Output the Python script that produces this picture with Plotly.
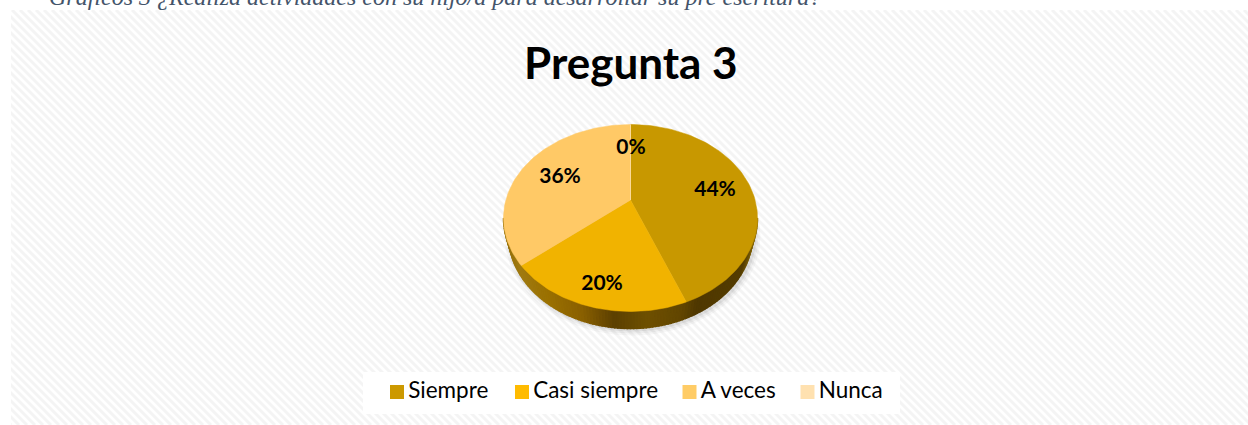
import base64
import numpy as np
import plotly.graph_objects as go

# ── Data ──────────────────────────────────────────────────────────────────────
CATEGORIES = ["Siempre", "Casi siempre", "A veces", "Nunca"]
VALUES = [44, 20, 36, 0]
VALUE_LABELS = ["44%", "20%", "36%", "0%"]
TITLE = "Pregunta 3"
CAPTION = "Gráficos 3 ¿Realiza actividades con su hijo/a para desarrollar su pre escritura?"

# ── Style ─────────────────────────────────────────────────────────────────────
FACE_COLORS = ["#C89800", "#F1B300", "#FFC966", "#FFE2AE"]
SWATCH_COLORS = ["#CC9900", "#FFBB00", "#FFCC66", "#FFE1B0"]
LABEL_POS = [(715, 191), (602, 285), (560, 178), (631, 149)]
LEGEND_X = [397, 522, 689.5, 807.5]
WIDTH, HEIGHT = 1248, 425
FONT = "Lato, Carlito, Calibri, sans-serif"

CX, CY, RX, RY = 630.5, 218.0, 127.0, 93.5   # top face ellipse, px
DEPTH = 17.0
BOTTOM_INSET = 5.0                            # lower rim is a little narrower
TILT = 0.096                                  # perspective shift of the apex
APEX = (CX, 200.0)

# side wall colour along x, px
WALL_X = [503, 517, 547, 580, 613, 647, 683, 697, 743, 752, 757]
WALL_RGB = [
    (150, 112, 10), (160, 122, 16), (154, 112, 0), (138, 96, 0), (92, 64, 0),
    (110, 80, 0), (97, 69, 0), (79, 56, 0), (84, 60, 0), (120, 92, 8), (150, 115, 12),
]


def rim(share):
    """Point on the tilted rim for a share of the circle (0 at top, clockwise)."""
    ang = np.pi / 2 - 2 * np.pi * np.asarray(share, dtype=float)
    z = np.exp(1j * ang)
    w = (z + 1j * TILT) / (1 - 1j * TILT * z)
    return CX + RX * w.real, CY - RY * w.imag


def hatch_uri(w, h):
    step = 8
    lines = "".join(
        f'<line x1="{x}" y1="0" x2="{x + h}" y2="{h}"/>' for x in range(-h, w, step)
    )
    svg = (
        f'<svg xmlns="http://www.w3.org/2000/svg" width="{w}" height="{h}">'
        f'<rect width="{w}" height="{h}" fill="#ffffff"/>'
        f'<g stroke="#f4f4f4" stroke-width="3">{lines}</g></svg>'
    )
    return "data:image/svg+xml;base64," + base64.b64encode(svg.encode()).decode()


fig = go.Figure()

# white box behind the legend row
fig.add_trace(go.Scatter(
    x=[363, 900, 900, 363, 363], y=[372, 372, 414, 414, 372],
    mode="lines", line=dict(width=0), fill="toself", fillcolor="#ffffff",
    hoverinfo="skip", showlegend=False,
))

# soft shadow under the pie
for grow, alpha in [(6, 0.03), (4, 0.04), (2, 0.06)]:
    t = np.linspace(0, 2 * np.pi, 160)
    fig.add_trace(go.Scatter(
        x=CX + 2 + (RX - BOTTOM_INSET + grow) * np.cos(t),
        y=CY + DEPTH + 1 + (RY + grow) * np.sin(t),
        mode="lines", line=dict(width=0), fill="toself",
        fillcolor=f"rgba(0,0,0,{alpha})", hoverinfo="skip", showlegend=False,
    ))

# side wall, thin strips so the gradient shows
t = np.linspace(0, np.pi, 121)
ex = CX + RX * np.cos(t)
ey = CY + RY * np.sin(t)
bx = CX + (RX - BOTTOM_INSET) * np.cos(t)
by = ey + DEPTH
for i in range(len(t) - 1):
    mid = (ex[i] + ex[i + 1]) / 2
    rgb = [np.interp(mid, WALL_X, [c[k] for c in WALL_RGB]) for k in range(3)]
    col = "rgb({:.0f},{:.0f},{:.0f})".format(*rgb)
    fig.add_trace(go.Scatter(
        x=[ex[i], ex[i + 1], bx[i + 1], bx[i], ex[i]],
        y=[ey[i], ey[i + 1], by[i + 1], by[i], ey[i]],
        mode="lines", line=dict(width=1.5, color=col), fill="toself",
        fillcolor=col, hoverinfo="skip", showlegend=False,
    ))

# top face wedges
start = 0.0
total = sum(VALUES)
for name, val, col in zip(CATEGORIES, VALUES, FACE_COLORS):
    end = start + val / total
    xs, ys = rim(np.linspace(start, end, 90))
    fig.add_trace(go.Scatter(
        x=[APEX[0], *xs, APEX[0]],
        y=[APEX[1], *ys, APEX[1]],
        mode="lines", line=dict(width=0.5, color=col), fill="toself", fillcolor=col,
        name=name, showlegend=False,
        hovertemplate=f"{name}: {val}%<extra></extra>",
    ))
    start = end

# value labels
fig.add_trace(go.Scatter(
    x=[p[0] for p in LABEL_POS], y=[p[1] for p in LABEL_POS],
    mode="text", text=VALUE_LABELS, textposition="middle center",
    textfont=dict(family=FONT, size=21, color="#000000", weight="bold"),
    hoverinfo="skip", showlegend=False,
))

# legend row
for name, col, x in zip(CATEGORIES, SWATCH_COLORS, LEGEND_X):
    fig.add_trace(go.Scatter(
        x=[x], y=[392], mode="markers+text", text=["\u200a" + name], textposition="middle right",
        marker=dict(symbol="square", size=14, color=col),
        textfont=dict(family=FONT, size=22.5, color="#000000"),
        hoverinfo="skip", showlegend=False,
    ))

fig.add_annotation(
    x=630.5, y=62, text=f"<b>{TITLE}</b>", showarrow=False,
    font=dict(family=FONT, size=44, color="#000000"),
)
fig.add_annotation(
    x=47, y=0, yshift=3, xanchor="left", text=f"<i>{CAPTION}</i>", showarrow=False,
    font=dict(family="Liberation Serif, serif", size=24, color="#44546A"),
)

fig.update_layout(
    width=WIDTH, height=HEIGHT,
    margin=dict(l=0, r=0, t=0, b=0),
    paper_bgcolor="#ffffff", plot_bgcolor="rgba(0,0,0,0)",
    xaxis=dict(range=[0, WIDTH], visible=False, fixedrange=True),
    yaxis=dict(range=[HEIGHT, 0], visible=False, fixedrange=True),
    images=[dict(
        source=hatch_uri(WIDTH - 11, HEIGHT - 10), xref="x", yref="y",
        x=11, y=10, sizex=WIDTH - 11, sizey=HEIGHT - 10,
        sizing="stretch", xanchor="left", yanchor="top", layer="below",
    )],
    showlegend=False,
)

fig.write_html("out.html", post_script="document.body.style.margin='0';", config=dict(displayModeBar=False))
